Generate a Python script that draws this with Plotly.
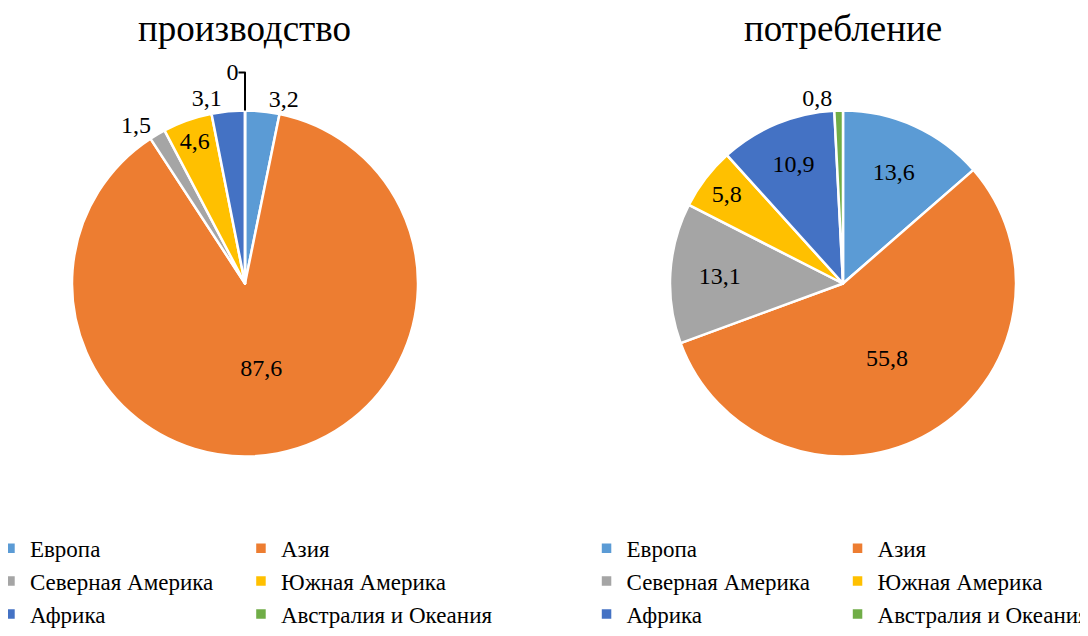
import plotly.graph_objects as go

regions = ["Европа", "Азия", "Северная Америка", "Южная Америка", "Африка", "Австралия и Океания"]
production = [3.2, 87.6, 1.5, 4.6, 3.1, 0]
consumption = [13.6, 55.8, 13.1, 5.8, 10.9, 0.8]
colors = ["#5B9BD5", "#ED7D31", "#A5A5A5", "#FFC000", "#4472C4", "#70AD47"]
titles = ["производство", "потребление"]

prod_pos = ["outside", "inside", "outside", "inside", "outside", "outside"]
cons_pos = ["inside", "inside", "inside", "inside", "inside", "outside"]

FONT = "Liberation Serif"

fig = go.Figure()
fig.add_trace(go.Pie(
    labels=regions, values=production, sort=False, direction="clockwise", rotation=0,
    marker=dict(colors=colors, line=dict(color="white", width=2.5)),
    texttemplate="%{value}", textposition=prod_pos,
    textfont=dict(family=FONT, size=24, color="black"),
    domain=dict(x=[0.05926, 0.37963], y=[0.2850, 0.8376]),
    legend="legend", legendgroup="prod", hoverinfo="label+value", showlegend=True,
))
fig.add_trace(go.Pie(
    labels=regions, values=consumption, sort=False, direction="clockwise", rotation=0,
    marker=dict(colors=colors, line=dict(color="white", width=2.5)),
    texttemplate="%{value}", textposition=cons_pos,
    textfont=dict(family=FONT, size=24, color="black"),
    domain=dict(x=[0.61296, 0.93333], y=[0.2850, 0.8376]),
    legend="legend2", legendgroup="cons", hoverinfo="label+value", showlegend=True,
))

for t, xc in zip(titles, [0.2194, 0.7731]):
    fig.add_annotation(text=t, x=xc, y=0.968, xref="paper", yref="paper",
                       showarrow=False, font=dict(family=FONT, size=37, color="black"),
                       xanchor="center", yanchor="middle")

legend_common = dict(orientation="h", entrywidth=206, font=dict(family=FONT, size=23, color="black"),
                     yanchor="bottom", y=0.0005, bgcolor="rgba(0,0,0,0)", traceorder="normal")
fig.update_layout(
    width=1088, height=636,
    margin=dict(l=0, r=8, t=0, b=8, autoexpand=False),
    paper_bgcolor="white", plot_bgcolor="white",
    separators=", ",
    legend=dict(x=-0.0167, xanchor="left", **legend_common),
    legend2=dict(x=1.0005, xanchor="right", **legend_common),
    font=dict(family=FONT, size=23, color="black"),
)

fig.write_html("out.html")
